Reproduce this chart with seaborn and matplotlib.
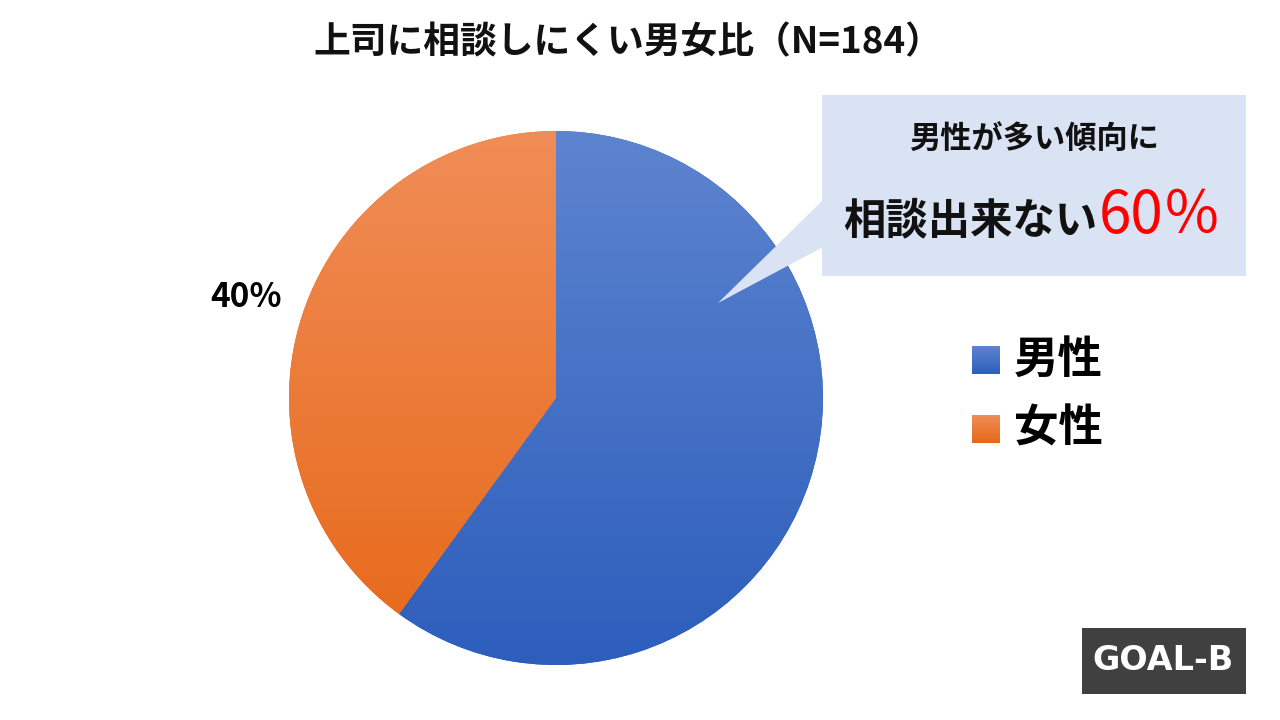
import numpy as np
import matplotlib
matplotlib.use("Agg")
import matplotlib.pyplot as plt
import seaborn as sns
from matplotlib.colors import LinearSegmentedColormap
from matplotlib.patches import Rectangle, Polygon

# data
labels = ["男性", "女性"]
shares = [60, 40]
title = "上司に相談しにくい男女比（N=184）"
note_top = "男性が多い傾向に"
note_main = "相談出来ない"
note_pct = "60％"

# gradient colors (top, bottom)
grad_colors = [("#5d84cf", "#2d5ebc"), ("#f18d57", "#e66818")]

sns.set_theme(style="white")
plt.rcParams["font.family"] = ["Noto Sans CJK JP", "DejaVu Sans"]

fig = plt.figure(figsize=(12.8, 7.2), dpi=100)
ax = fig.add_axes([0, 0, 1, 1])

H = 720
cx, cy, r = 556, H - 398, 267

wedges, _ = ax.pie(shares, colors=[c[1] for c in grad_colors], startangle=90,
                   counterclock=False, center=(cx, cy), radius=r,
                   wedgeprops=dict(linewidth=0))

grad = np.linspace(0, 1, 256).reshape(-1, 1)
for w, (top, bot) in zip(wedges, grad_colors):
    cmap = LinearSegmentedColormap.from_list("g", [top, bot])
    im = ax.imshow(grad, cmap=cmap, extent=[cx - r, cx + r, cy - r, cy + r],
                   origin="upper", aspect="auto", zorder=2)
    im.set_clip_path(w)

# label for the female wedge
w = wedges[1]
mid = np.deg2rad((w.theta1 + w.theta2) / 2)
ax.text(cx + 1.22 * r * np.cos(mid), cy + 1.22 * r * np.sin(mid), f"{shares[1]}%",
        ha="center", va="center", fontsize=24, fontweight="bold", color="black", zorder=5)

# callout box
box_col = "#dae3f3"
ax.add_patch(Rectangle((822, H - 276), 424, 181, facecolor=box_col, edgecolor="none", zorder=3))
ax.add_patch(Polygon([(823, H - 200), (718, H - 303), (823, H - 247)], closed=True,
                     facecolor=box_col, edgecolor="none", zorder=3))
ax.text(1034, H - 140, note_top, ha="center", va="center", fontsize=22.5,
        fontweight="bold", color="#111111", zorder=5)
ax.text(843, H - 233, note_main, ha="left", va="baseline", fontsize=30.5,
        fontweight="bold", color="#111111", zorder=5)
ax.text(1222, H - 233, note_pct, ha="right", va="baseline", fontsize=42,
        fontweight="normal", color="#ff0000", zorder=5)

# legend
for i, (lab, (top, bot)) in enumerate(zip(labels, grad_colors)):
    y0 = H - 374 - i * 69
    cmap = LinearSegmentedColormap.from_list("g", [top, bot])
    ax.imshow(grad, cmap=cmap, extent=[972, 1000, y0, y0 + 28], origin="upper",
              aspect="auto", zorder=4)
    ax.text(1014, y0 + 14, lab, ha="left", va="center", fontsize=32,
            fontweight="bold", color="black", zorder=5)

# title
ax.text(628, H - 43, title, ha="center", va="center", fontsize=26.5,
        fontweight="bold", color="#111111")

# logo
ax.add_patch(Rectangle((1082, H - 694), 164, 66, facecolor="#404040", edgecolor="none", zorder=3))
ax.text(1163, H - 661, "GOAL-B", ha="center", va="center", fontsize=24,
        fontweight="bold", color="white", family="DejaVu Sans", zorder=5)

ax.set_xlim(0, 1280)
ax.set_ylim(0, H)
ax.set_aspect("auto")
ax.axis("off")

fig.savefig("out.png", dpi=100, facecolor="white")
